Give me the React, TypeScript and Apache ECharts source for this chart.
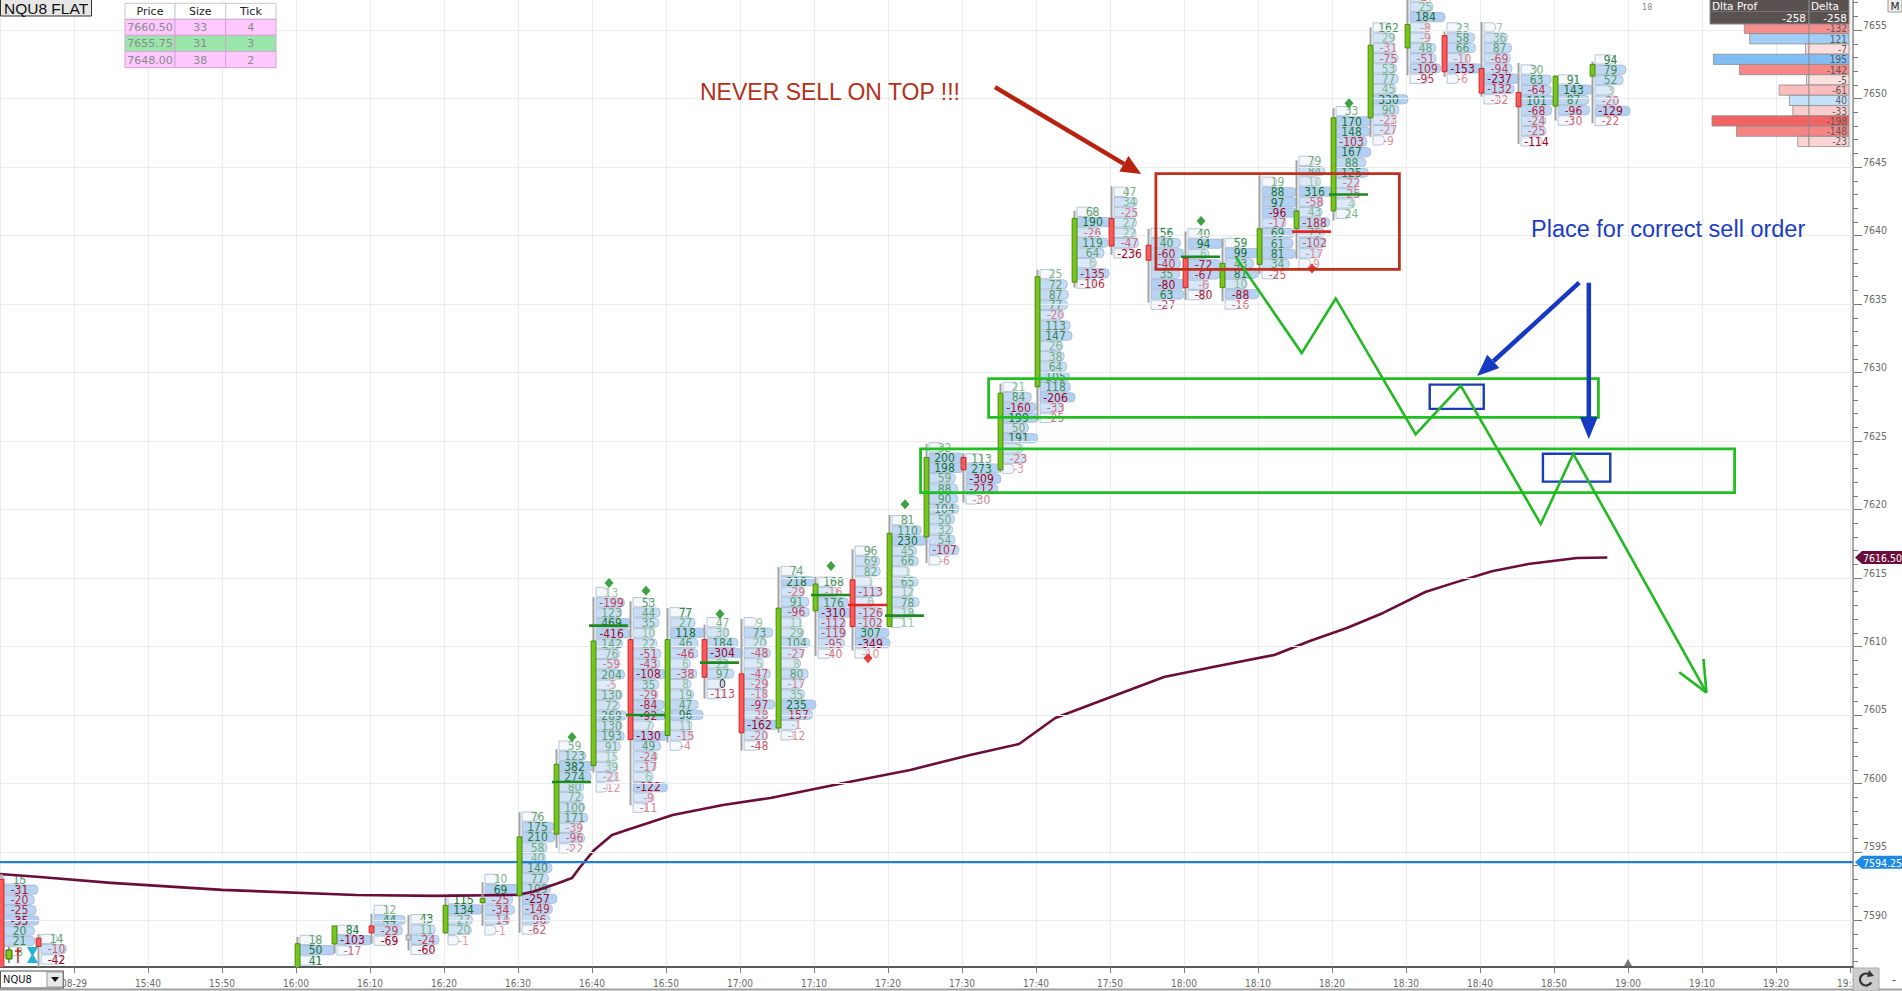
import React, { useEffect, useRef } from "react";
import * as echarts from "echarts";

// ---------- axis ranges (minutes from 16:00, price) ----------
const X_MIN = -40;
const X_MAX = 210.4;
const Y_MIN = 7586.6;
const Y_MAX = 7657.2;
const ROW_STEP = 0.75;

// ---------- footprint bars ----------
const BAR_TIMES = [-40, -35, 0, 5, 10, 15, 20, 25, 30, 35, 40, 45, 50, 55, 60, 65, 70, 75, 80, 85, 90, 95, 100, 105, 110, 115, 120, 125, 130, 135, 140, 145, 150, 155, 160, 165, 170, 175];
const BAR_TOP = [7593.0, 7588.65, 7588.58, 7589.31, 7590.77, 7590.09, 7591.55, 7593.03, 7597.58, 7602.76, 7613.96, 7613.23, 7612.5, 7611.77, 7611.77, 7615.51, 7614.73, 7616.99, 7619.23, 7624.54, 7623.74, 7628.96, 7637.19, 7641.74, 7643.2, 7640.2, 7640.16, 7639.47, 7643.93, 7645.46, 7649.09, 7655.2, 7657.45, 7655.2, 7655.2, 7652.13, 7651.4, 7652.86];
const BAR_OPEN = [7593.0, 7588.7, 7586.0, 7588.28, 7589.6, 7588.8, 7589.1, 7591.3, 7591.8, 7596.3, 7601.3, 7610.5, 7603.5, 7610.5, 7608.0, 7604.05, 7612.6, 7614.87, 7611.45, 7618.0, 7623.8, 7622.9, 7628.96, 7636.6, 7641.26, 7639.3, 7638.34, 7636.2, 7637.9, 7640.5, 7641.8, 7648.6, 7653.7, 7654.6, 7652.2, 7650.45, 7649.45, 7651.64];
const BAR_CLOSE = [7586.0, 7588.1, 7588.3, 7589.6, 7589.1, 7588.8, 7591.1, 7591.6, 7596.1, 7601.4, 7610.4, 7603.2, 7610.5, 7607.75, 7603.7, 7612.8, 7614.56, 7611.45, 7618.26, 7623.8, 7622.9, 7628.5, 7637.0, 7641.26, 7639.24, 7638.2, 7636.2, 7637.97, 7640.5, 7641.8, 7648.6, 7653.9, 7655.4, 7651.96, 7650.4, 7649.4, 7651.64, 7652.5];
const BAR_HIGH = [7593.4, 7589.0, 7588.8, 7589.6, 7590.5, 7590.4, 7591.7, 7592.8, 7597.9, 7602.5, 7613.6, 7613.3, 7612.8, 7611.6, 7612.0, 7615.8, 7615.1, 7617.1, 7619.6, 7624.8, 7624.1, 7629.2, 7637.5, 7641.8, 7643.6, 7640.5, 7640.3, 7639.8, 7644.4, 7645.5, 7649.3, 7655.2, 7657.5, 7654.9, 7655.6, 7652.6, 7651.7, 7652.7];
const BAR_LOW = [7586.0, 7586.5, 7586.0, 7587.6, 7588.3, 7587.8, 7589.0, 7589.6, 7589.1, 7595.3, 7600.8, 7598.4, 7603.0, 7606.2, 7602.4, 7603.7, 7609.3, 7609.7, 7611.45, 7616.1, 7620.5, 7622.7, 7626.5, 7636.2, 7638.6, 7635.1, 7635.3, 7635.2, 7637.2, 7638.3, 7641.1, 7647.2, 7651.7, 7651.6, 7650.15, 7646.7, 7648.4, 7648.2];
const BAR_DELTAS = [
  [15, -31, -20, -25, -35, 20, 21, 8],
  [14, -10, -42],
  [18, 50, 41],
  [84, -103, -17],
  [12, 44, -29, -69],
  [43, 11, -24, -60],
  [115, 134, 27, 20, -1],
  [10, 69, -25, -34, -14, -1],
  [76, 175, 210, 58, 40, 140, 77, 109, -257, -149, -96, -62],
  [59, 123, 382, 274, 80, 72, 100, 171, -39, -96, -22],
  [13, -199, 123, 469, -416, 142, 76, -59, 204, -5, 130, 72, 269, 130, 193, 91, 15, 39, -21, -12],
  [53, 44, 35, 10, 22, -51, -43, -108, 35, -29, -84, -92, 7, -130, 49, -24, -17, 6, -122, -9, -11],
  [77, 27, 118, 46, -46, 6, -38, 8, 19, 47, 96, 11, -15, -4],
  [47, 30, 184, -304, 22, 97, 0, -113],
  [9, 73, 20, -48, 5, -47, -29, -18, -97, -28, -162, -20, -48],
  [74, 218, -29, 91, -96, 11, 29, 104, -27, 8, 80, -17, 35, 235, -157, -1, -12],
  [168, -16, 176, -310, -112, -119, -95, -40],
  [96, 69, 82, 1, -113, 6, -126, -102, 307, -349, -10],
  [81, 110, 230, 45, 66, 1, 65, 12, 78, 18, 11],
  [32, 200, 198, 59, 88, 90, 104, 50, 32, 54, -107, -6],
  [113, 273, -309, -212, -30],
  [21, 84, -160, 199, 50, 191, 7, -23, -3],
  [25, 72, 87, 77, -20, 113, 147, 26, 38, 64, 105, 118, -206, -33, -25],
  [68, 190, -26, 119, 64, 6, -135, -106],
  [47, 34, -25, 27, 22, -47, -236],
  [56, 40, -60, -40, 35, -80, 63, -27],
  [40, 94, 6, -72, -67, -6, -80],
  [59, 99, 43, 81, 10, -88, -16],
  [19, 88, 97, -96, -17, 69, 61, 81, 34, -25],
  [79, 84, 10, 316, -58, 43, -188, 75, -102, -17, -9],
  [33, 170, 148, -103, 167, 88, 125, -22, -25, 4, 24],
  [162, 29, -31, -75, 53, 77, 45, 330, 90, -23, -27, -9],
  [-17, 25, 184, -8, -9, 48, -51, -109, -95],
  [23, 58, 66, -10, -153, -6],
  [7, 36, 87, -69, -94, -237, -132, -32],
  [30, 63, -64, 101, -68, -24, -25, -114],
  [91, 143, 87, -96, -30],
  [94, 79, 52, 3, -20, -129, -22],
];

// ---------- point of control lines ----------
const POC_TIMES = [35, 40, 45, 55, 70, 75, 80, 120, 135, 140];
const POC_PRICES = [7600.11, 7611.52, 7605.0, 7608.82, 7613.76, 7613.03, 7612.25, 7638.45, 7640.29, 7643.0];
const POC_SIDE = ["up", "up", "up", "up", "up", "down", "up", "up", "down", "up"];

// ---------- diamonds ----------
const UP_DIAMOND_TIMES = [35, 40, 45, 55, 70, 80, 120, 140];
const UP_DIAMOND_PRICES = [7603.39, 7614.64, 7614.07, 7612.37, 7615.88, 7620.38, 7641.06, 7649.67];
const DOWN_DIAMOND_TIMES = [75, 135];
const DOWN_DIAMOND_PRICES = [7609.14, 7637.6];

// ---------- VWAP ----------
const VWAP_TIMES = [-40, -34.6, -25, -10, 8.1, 18.8, 29.9, 32, 35.3, 37.3, 38.4, 40.3, 42.7, 44.7, 50.9, 57.7, 64.1, 74.7, 83, 91.1, 97.7, 102.6, 107.6, 117.3, 123.9, 132.2, 137, 142, 146.9, 152.6, 156.8, 161.6, 166.5, 173.1, 177.2];
const VWAP_PRICES = [7593.39, 7593.17, 7592.74, 7592.23, 7591.86, 7591.79, 7591.86, 7592.1, 7592.7, 7593.1, 7593.9, 7595.15, 7596.24, 7596.6, 7597.7, 7598.43, 7598.94, 7600.11, 7600.99, 7602.08, 7602.88, 7604.78, 7605.8, 7607.77, 7608.5, 7609.38, 7610.4, 7611.35, 7612.45, 7613.98, 7614.7, 7615.5, 7616.02, 7616.46, 7616.5];
const LEVEL_PRICE = 7594.25;

// ---------- axes ----------
const Y_LABELS = [7590, 7595, 7600, 7605, 7610, 7615, 7620, 7625, 7630, 7635, 7640, 7645, 7650, 7655];
const Y_MINOR = [7587, 7588, 7589, 7590, 7591, 7592, 7593, 7594, 7595, 7596, 7597, 7598, 7599, 7600, 7601, 7602, 7603, 7604, 7605, 7606, 7607, 7608, 7609, 7610, 7611, 7612, 7613, 7614, 7615, 7616, 7617, 7618, 7619, 7620, 7621, 7622, 7623, 7624, 7625, 7626, 7627, 7628, 7629, 7630, 7631, 7632, 7633, 7634, 7635, 7636, 7637, 7638, 7639, 7640, 7641, 7642, 7643, 7644, 7645, 7646, 7647, 7648, 7649, 7650, 7651, 7652, 7653, 7654, 7655, 7656, 7657];

// ---------- delta profile ----------
const PROFILE_TOP = 7655.12;
const PROFILE_DELTAS = [-132, 121, -7, 195, -142, -5, -61, 40, -33, -198, -148, -23];
const PROFILE_TOTAL = -258;

// ---------- order table ----------
const TABLE_HEAD = ["Price", "Size", "Tick"];
const TABLE_PRICES = ["7660.50", "7655.75", "7648.00"];
const TABLE_SIZES = [33, 31, 38];
const TABLE_TICKS = [4, 3, 2];

// ---------- annotations (time, price) ----------
const RED_ZONE = [[116.2, 7644.53], [149.1, 7637.53]];
const GREEN_ZONES = [[[93.6, 7629.56], [176.0, 7626.73]], [[84.4, 7624.43], [194.4, 7621.24]]];
const BLUE_ZONES = [[[153.2, 7629.12], [160.5, 7627.35]], [[168.5, 7624.07], [177.6, 7622.04]]];
const ZIGZAG_TIMES = [127.0, 135.9, 140.5, 151.3, 157.4, 168.2, 172.6, 190.6];
const ZIGZAG_PRICES = [7638.43, 7631.42, 7635.41, 7625.49, 7629.04, 7618.94, 7624.07, 7606.63];
const RED_ARROW = [[94.46, 7650.84], [114.2, 7644.49]];
const BLUE_ARROWS = [[[173.4, 7636.56], [159.6, 7629.74]], [[174.7, 7636.56], [174.7, 7625.15]]];

const NUM_FONT = "DejaVu Sans Condensed";

function hex(c: string) {
  return [parseInt(c.slice(1, 3), 16), parseInt(c.slice(3, 5), 16), parseInt(c.slice(5, 7), 16)];
}
function mix(a: string, b: string, f: number) {
  const A = hex(a), B = hex(b);
  const r = A.map((v, i) => Math.round(v + (B[i] - v) * Math.max(0, Math.min(1, f))));
  return `rgb(${r[0]},${r[1]},${r[2]})`;
}

function fmtTime(v: number) {
  const r = Math.round(v / 10) * 10;
  if (Math.abs(v - r) > 0.01) return "";
  if (r === -40) return "";
  if (r === -30) return "08-29";
  const m = 16 * 60 + r;
  const h = Math.floor(m / 60);
  const mm = m % 60;
  return `${h}:${String(mm).padStart(2, "0")}`;
}

function footprintItem(params: any, api: any) {
  const i = api.value(2);
  const t = BAR_TIMES[i];
  const deltas = BAR_DELTAS[i];
  const top = BAR_TOP[i];
  const maxAbs = Math.max(1, ...deltas.map((d) => Math.abs(d)));
  const y0 = api.coord([t, top])[1];
  const y1 = api.coord([t, top - ROW_STEP])[1];
  const rowPx = y1 - y0;
  const children: any[] = [];
  deltas.forEach((d, k) => {
    const [x, y] = api.coord([t, top - k * ROW_STEP]);
    const f = Math.abs(d) / maxAbs;
    const edge = k === 0 || k === deltas.length - 1;
    const w = (edge ? 0.6 : 1) * (16 + 19 * Math.sqrt(f));
    children.push({
      type: "rect",
      shape: { x: x + 4, y: y - rowPx / 2 + 0.5, width: w, height: rowPx - 1, r: [0, 4, 4, 0] },
      style: { fill: edge ? "#f4f8fd" : mix("#e4effb", "#b2d0f3", Math.sqrt(f)), stroke: "#a6b8ce", lineWidth: 0.8 },
    });
    const g = 0.15 + 0.85 * Math.pow(f, 0.6);
    const color = d === 0 ? "#333333" : d > 0 ? mix("#cce7cc", "#12702a", g) : mix("#f5c0c0", "#a0001c", g);
    children.push({
      type: "text",
      style: {
        text: String(d), x: x + 19.5, y: y + 0.3, align: "center", verticalAlign: "middle",
        textAlign: "center", textVerticalAlign: "middle",
        fill: color, fontSize: 12, fontFamily: NUM_FONT,
      },
    });
  });
  return { type: "group", children };
}

function candleItem(params: any, api: any) {
  const i = api.value(2);
  const t = BAR_TIMES[i];
  const [x, yH] = api.coord([t, BAR_HIGH[i]]);
  const yL = api.coord([t, BAR_LOW[i]])[1];
  const yO = api.coord([t, BAR_OPEN[i]])[1];
  const yC = api.coord([t, BAR_CLOSE[i]])[1];
  const up = BAR_CLOSE[i] > BAR_OPEN[i];
  const flat = Math.abs(BAR_CLOSE[i] - BAR_OPEN[i]) < 0.01;
  const cx = x + 1.5;
  const top = Math.min(yO, yC);
  const h = Math.max(Math.abs(yO - yC), 3);
  const fill = flat ? "#cfcfcf" : up ? "#78c61c" : "#ff5a5a";
  const stroke = flat ? "#9a9a9a" : up ? "#3d8400" : "#c41a1a";
  return {
    type: "group",
    children: [
      { type: "line", shape: { x1: cx, y1: yH, x2: cx, y2: yL }, style: { stroke: "#a2a2a2", lineWidth: 2 } },
      { type: "rect", shape: { x: cx - 2.4, y: flat ? top - 2 : top, width: 4.8, height: flat ? 5 : h }, style: { fill, stroke, lineWidth: 0.9 } },
    ],
  };
}

function pocItem(params: any, api: any) {
  const i = api.value(2);
  const [x, y] = api.coord([api.value(0), api.value(1)]);
  return {
    type: "line",
    shape: { x1: x - 3, y1: y, x2: x + 36, y2: y },
    style: { stroke: POC_SIDE[i] === "up" ? "#1d8a1d" : "#e22626", lineWidth: 2.6 },
  };
}

function profileItem(params: any, api: any) {
  const k = api.value(2);
  const d = PROFILE_DELTAS[k];
  const y = api.coord([0, api.value(1)])[1];
  const h = 10.2;
  const mid = 1809;
  const right = 1849;
  const f = Math.min(1, Math.abs(d) / 200);
  const fill = d >= 0 ? mix("#d6eafc", "#7dbcf4", f) : mix("#fde3e3", "#f26262", f);
  const len = Math.abs(d) * 0.49;
  return {
    type: "group",
    children: [
      { type: "rect", shape: { x: mid - len, y: y - h / 2, width: len, height: h }, style: { fill, stroke: "#8c8c8c", lineWidth: 0.8 } },
      { type: "rect", shape: { x: mid, y: y - h / 2, width: right - mid, height: h }, style: { fill, stroke: "#8c8c8c", lineWidth: 0.8 } },
      {
        type: "text",
        style: {
          text: String(d), x: right - 2, y: y + 0.5, align: "right", verticalAlign: "middle",
          textAlign: "right", textVerticalAlign: "middle", fill: "#5a5a5a", fontSize: 10, fontFamily: NUM_FONT,
        },
      },
    ],
  };
}

function buildOption() {
  const barData = BAR_TIMES.map((t, i) => [t, BAR_TOP[i], i]);
  return {
    animation: false,
    backgroundColor: "#ffffff",
    grid: { left: 0, right: 49, top: 0, bottom: 24, containLabel: false, outerBoundsMode: "none" },
    xAxis: {
      type: "value",
      min: X_MIN,
      max: X_MAX,
      interval: 10,
      axisLine: { show: true, onZero: false, lineStyle: { color: "#5a5a5a", width: 2 } },
      axisTick: { show: true, length: 6, lineStyle: { color: "#7a7a7a" } },
      axisLabel: { formatter: fmtTime, color: "#6a6a6a", fontSize: 10, fontFamily: NUM_FONT, margin: 11, showMaxLabel: false, showMinLabel: false },
      splitLine: { show: true, lineStyle: { color: "#ececec", width: 1 } },
    },
    yAxis: [
      {
        type: "value",
        position: "right",
        min: Y_MIN,
        max: Y_MAX,
        axisLine: { show: true, onZero: false, lineStyle: { color: "#8a8a8a", width: 1.5 } },
        axisTick: { show: true, length: 9, customValues: Y_LABELS, lineStyle: { color: "#7a7a7a" } },
        axisLabel: {
          show: true, customValues: Y_LABELS, formatter: (v: number) => String(v),
          color: "#6a6a6a", fontSize: 10.5, fontFamily: NUM_FONT, margin: 10, verticalAlign: "bottom",
        },
        splitLine: { show: false },
      },
      {
        type: "value",
        position: "right",
        min: Y_MIN,
        max: Y_MAX,
        axisLine: { show: false, onZero: false },
        axisTick: { show: true, length: 5, customValues: Y_MINOR, lineStyle: { color: "#7a7a7a" } },
        axisLabel: { show: false },
        splitLine: { show: false },
      },
    ],
    series: [
      {
        type: "line",
        name: "grid",
        data: [],
        z: 1,
        silent: true,
        markLine: {
          silent: true,
          symbol: ["none", "none"],
          label: { show: false },
          lineStyle: { color: "#ececec", type: "solid", width: 1 },
          data: Y_LABELS.map((v) => ({ yAxis: v })),
        },
      },
      {
        type: "custom",
        name: "footprint",
        data: barData,
        encode: { x: 0, y: 1 },
        renderItem: footprintItem,
        clip: true,
        silent: true,
        z: 3,
      },
      {
        type: "line",
        name: "vwap",
        data: VWAP_TIMES.map((t, i) => [t, VWAP_PRICES[i]]),
        showSymbol: false,
        lineStyle: { color: "#6b0d3a", width: 2.6, join: "round" },
        silent: true,
        z: 4,
      },
      {
        type: "line",
        name: "level",
        data: [[X_MIN, LEVEL_PRICE], [X_MAX, LEVEL_PRICE]],
        showSymbol: false,
        lineStyle: { color: "#1f82d6", width: 2.2 },
        silent: true,
        z: 4,
      },
      {
        type: "custom",
        name: "candles",
        data: barData,
        encode: { x: 0, y: 1 },
        renderItem: candleItem,
        clip: true,
        silent: true,
        z: 5,
      },
      {
        type: "custom",
        name: "poc",
        data: POC_TIMES.map((t, i) => [t, POC_PRICES[i], i]),
        encode: { x: 0, y: 1 },
        renderItem: pocItem,
        silent: true,
        z: 6,
      },
      {
        type: "scatter",
        name: "upDiamonds",
        data: UP_DIAMOND_TIMES.map((t, i) => [t, UP_DIAMOND_PRICES[i]]),
        symbol: "diamond",
        symbolSize: [9, 10],
        symbolOffset: [17, 0],
        itemStyle: { color: "#0f8a14" },
        silent: true,
        z: 7,
      },
      {
        type: "scatter",
        name: "downDiamonds",
        data: DOWN_DIAMOND_TIMES.map((t, i) => [t, DOWN_DIAMOND_PRICES[i]]),
        symbol: "diamond",
        symbolSize: [9, 10],
        symbolOffset: [17, 0],
        itemStyle: { color: "#e41010" },
        silent: true,
        z: 7,
      },
      {
        type: "custom",
        name: "profile",
        data: PROFILE_DELTAS.map((d, k) => [0, PROFILE_TOP - k * ROW_STEP, k]),
        encode: { x: 0, y: 1 },
        renderItem: profileItem,
        silent: true,
        z: 8,
      },
    ],
  };
}

function txt(text: string, x: number, y: number, o: any = {}) {
  const align = o.align || "left";
  return {
    type: "text",
    z: o.z || 101,
    style: {
      text, x, y,
      align, textAlign: align,
      verticalAlign: "middle", textVerticalAlign: "middle",
      fill: o.fill || "#222",
      fontSize: o.fontSize || 11,
      fontFamily: o.fontFamily || "DejaVu Sans",
      fontWeight: o.fontWeight || "normal",
    },
  };
}

function arrowEls(a: number[], b: number[], color: string, width: number, headLen: number, headW: number) {
  const dx = b[0] - a[0], dy = b[1] - a[1];
  const L = Math.hypot(dx, dy);
  const ux = dx / L, uy = dy / L;
  const bx = b[0] - ux * headLen, by = b[1] - uy * headLen;
  const nx = -uy, ny = ux;
  return [
    { type: "line", z: 100, shape: { x1: a[0], y1: a[1], x2: bx, y2: by }, style: { stroke: color, lineWidth: width } },
    { type: "polygon", z: 100, shape: { points: [[b[0], b[1]], [bx + nx * headW, by + ny * headW], [bx - nx * headW, by - ny * headW]] }, style: { fill: color } },
  ];
}

function buildGraphic(P: (t: number, p: number) => number[]) {
  const els: any[] = [];
  const rectFrom = (a: number[], b: number[], color: string, lw: number) => {
    const A = P(a[0], a[1]), B = P(b[0], b[1]);
    return {
      type: "rect", z: 100,
      shape: { x: Math.min(A[0], B[0]), y: Math.min(A[1], B[1]), width: Math.abs(B[0] - A[0]), height: Math.abs(B[1] - A[1]) },
      style: { fill: "none", stroke: color, lineWidth: lw },
    };
  };

  // title box
  els.push({ type: "rect", z: 100, shape: { x: 0.5, y: -1, width: 91, height: 17 }, style: { fill: "#e6e6e6", stroke: "#333", lineWidth: 1 } });
  els.push(txt("NQU8 FLAT", 4, 8, { fontSize: 15.5, fontFamily: "Liberation Sans", fill: "#111" }));

  // order table
  const cols = [125, 175, 225.7, 276];
  const rows = [3.3, 19.3, 35.3, 51.5, 67.7];
  const rowFills = ["#ffffff", "#ffc8ff", "#9ae6aa", "#ffc8ff"];
  for (let r = 0; r < 4; r++) {
    for (let c = 0; c < 3; c++) {
      els.push({
        type: "rect", z: 100,
        shape: { x: cols[c], y: rows[r], width: cols[c + 1] - cols[c], height: rows[r + 1] - rows[r] },
        style: { fill: rowFills[r], stroke: r === 0 ? "#c8c8c8" : "#d2a6d2", lineWidth: 1 },
      });
      let label = "";
      if (r === 0) label = TABLE_HEAD[c];
      else if (c === 0) label = TABLE_PRICES[r - 1];
      else if (c === 1) label = String(TABLE_SIZES[r - 1]);
      else label = String(TABLE_TICKS[r - 1]);
      els.push(txt(label, (cols[c] + cols[c + 1]) / 2, (rows[r] + rows[r + 1]) / 2 + 0.5, {
        align: "center", fontSize: 11, fill: r === 0 ? "#222" : "#8a8a8a",
      }));
    }
  }

  // zones
  els.push(rectFrom(RED_ZONE[0], RED_ZONE[1], "#c0301e", 2.8));
  GREEN_ZONES.forEach((z) => els.push(rectFrom(z[0], z[1], "#21c021", 2.8)));
  BLUE_ZONES.forEach((z) => els.push(rectFrom(z[0], z[1], "#1a3cb4", 2.4)));

  // zigzag
  const zz = ZIGZAG_TIMES.map((t, i) => P(t, ZIGZAG_PRICES[i]));
  els.push({ type: "polyline", z: 100, shape: { points: zz }, style: { stroke: "#22b922", lineWidth: 2.6, fill: "none" } });
  {
    const tip = zz[zz.length - 1];
    const prev = zz[zz.length - 2];
    const ang = Math.atan2(prev[1] - tip[1], prev[0] - tip[0]);
    const len = 34;
    [-0.42, 0.42].forEach((da) => {
      els.push({
        type: "line", z: 100,
        shape: { x1: tip[0], y1: tip[1], x2: tip[0] + Math.cos(ang + da) * len, y2: tip[1] + Math.sin(ang + da) * len },
        style: { stroke: "#22b922", lineWidth: 2.6 },
      });
    });
  }

  // arrows
  els.push(...arrowEls(P(RED_ARROW[0][0], RED_ARROW[0][1]), P(RED_ARROW[1][0], RED_ARROW[1][1]), "#b8220f", 4.5, 20, 9));
  BLUE_ARROWS.forEach((a) => els.push(...arrowEls(P(a[0][0], a[0][1]), P(a[1][0], a[1][1]), "#1638c2", 4.5, 22, 9)));

  // annotation texts
  els.push(txt("NEVER SELL ON TOP !!!", 700, 92, { fontSize: 23, fontFamily: "Liberation Sans", fill: "#b3301b" }));
  els.push(txt("Place for correct sell order", 1531, 229, { fontSize: 23.5, fontFamily: "Liberation Sans", fill: "#1b3cc4" }));

  // right axis price tags
  const tag = (p: number, color: string, label: string) => {
    const y = P(0, p)[1];
    const xl = 1855;
    els.push({ type: "polygon", z: 100, shape: { points: [[xl, y], [xl + 7, y - 6.5], [1902, y - 6.5], [1902, y + 6.5], [xl + 7, y + 6.5]] }, style: { fill: color } });
    els.push(txt(label, xl + 8, y + 0.5, { fontSize: 10.5, fontFamily: NUM_FONT, fill: "#ffffff" }));
  };
  tag(VWAP_PRICES[VWAP_PRICES.length - 1], "#6b0d3a", VWAP_PRICES[VWAP_PRICES.length - 1].toFixed(2));
  tag(LEVEL_PRICE, "#1e88e5", LEVEL_PRICE.toFixed(2));

  // delta profile header
  els.push({ type: "rect", z: 100, shape: { x: 1710, y: -1, width: 139, height: 25 }, style: { fill: "#5a5250", stroke: "#8a8a8a", lineWidth: 1 } });
  els.push({ type: "line", z: 100, shape: { x1: 1809, y1: -1, x2: 1809, y2: 24 }, style: { stroke: "#9a9a9a", lineWidth: 1 } });
  els.push({ type: "line", z: 100, shape: { x1: 1710, y1: 11.5, x2: 1849, y2: 11.5 }, style: { stroke: "#7a7272", lineWidth: 1 } });
  els.push(txt("Dlta Prof", 1712, 5.5, { fontSize: 10.5, fill: "#ffffff" }));
  els.push(txt("Delta", 1811, 5.5, { fontSize: 10.5, fill: "#ffffff" }));
  els.push(txt(String(PROFILE_TOTAL), 1806, 18, { align: "right", fontSize: 10.5, fill: "#ffffff" }));
  els.push(txt(String(PROFILE_TOTAL), 1847, 18, { align: "right", fontSize: 10.5, fill: "#ffffff" }));

  // top right bits
  els.push(txt("18", 1642, 7, { fontSize: 9, fill: "#8a8a8a", fontFamily: NUM_FONT }));
  els.push({ type: "rect", z: 100, shape: { x: 1888, y: -2, width: 14, height: 14 }, style: { fill: "#eeeeee", stroke: "#9a9a9a", lineWidth: 1 } });
  els.push(txt("M", 1895, 5.5, { align: "center", fontSize: 10.5, fill: "#222" }));

  // x-axis marker at 19:00
  {
    const m = P(180, Y_MIN);
    els.push({ type: "polygon", z: 100, shape: { points: [[m[0] - 4, m[1] - 1], [m[0] + 4, m[1] - 1], [m[0], m[1] - 8]] }, style: { fill: "#7a7a7a" } });
  }

  // bottom strip
  els.push({ type: "line", z: 100, shape: { x1: 0, y1: 989.5, x2: 1902, y2: 989.5 }, style: { stroke: "#a0a0a0", lineWidth: 2 } });
  els.push({ type: "rect", z: 100, shape: { x: 0.5, y: 971, width: 63, height: 17 }, style: { fill: "#ffffff", stroke: "#555", lineWidth: 1 } });
  els.push(txt("NQU8", 3, 979.5, { fontSize: 11, fontFamily: NUM_FONT, fill: "#111" }));
  els.push({ type: "rect", z: 101, shape: { x: 47, y: 972, width: 16, height: 15 }, style: { fill: "#e8e8e8", stroke: "#999", lineWidth: 1 } });
  els.push({ type: "polygon", z: 102, shape: { points: [[51, 977], [59, 977], [55, 982]] }, style: { fill: "#111" } });
  els.push({ type: "rect", z: 100, shape: { x: 1853, y: 968, width: 26, height: 23 }, style: { fill: "#cdcdcd", stroke: "#aaaaaa", lineWidth: 1 } });
  els.push({ type: "arc", z: 101, shape: { cx: 1866, cy: 979.5, r: 6, startAngle: 0.5, endAngle: 5.6 }, style: { stroke: "#333", lineWidth: 2.2, fill: "none" } });
  els.push({ type: "polygon", z: 101, shape: { points: [[1869, 970], [1874, 976], [1867, 977]] }, style: { fill: "#333" } });
  els.push(txt("-", 1892, 979, { fontSize: 11, fill: "#333" }));

  // toolbar icons bottom-left
  els.push({ type: "line", z: 100, shape: { x1: 9, y1: 947, x2: 9, y2: 963 }, style: { stroke: "#333", lineWidth: 1 } });
  els.push({ type: "rect", z: 101, shape: { x: 6, y: 950, width: 6, height: 9 }, style: { fill: "#7ac81e", stroke: "#2a6a00", lineWidth: 1 } });
  els.push({ type: "line", z: 100, shape: { x1: 18, y1: 948, x2: 18, y2: 963 }, style: { stroke: "#d02020", lineWidth: 1.5 } });
  els.push({ type: "line", z: 100, shape: { x1: 15, y1: 951, x2: 21, y2: 951 }, style: { stroke: "#d02020", lineWidth: 1.5 } });
  els.push({ type: "polygon", z: 100, shape: { points: [[27, 947], [38, 947], [33.5, 955], [38, 963], [27, 963], [31.5, 955]] }, style: { fill: "#23b2d8" } });

  return els;
}

export default function App() {
  const ref = useRef<HTMLDivElement>(null);
  useEffect(() => {
    if (!ref.current) return;
    const chart = echarts.init(ref.current, null, { renderer: "svg" });
    chart.setOption(buildOption() as any);
    const P = (t: number, p: number) => chart.convertToPixel({ xAxisIndex: 0, yAxisIndex: 0 } as any, [t, p]) as number[];
    chart.setOption({ graphic: { elements: buildGraphic(P) } } as any);
    return () => chart.dispose();
  }, []);
  return (
    <div
      ref={ref}
      style={{ position: "fixed", left: 0, top: 0, width: 1902, height: 991, background: "#ffffff" }}
    />
  );
}
